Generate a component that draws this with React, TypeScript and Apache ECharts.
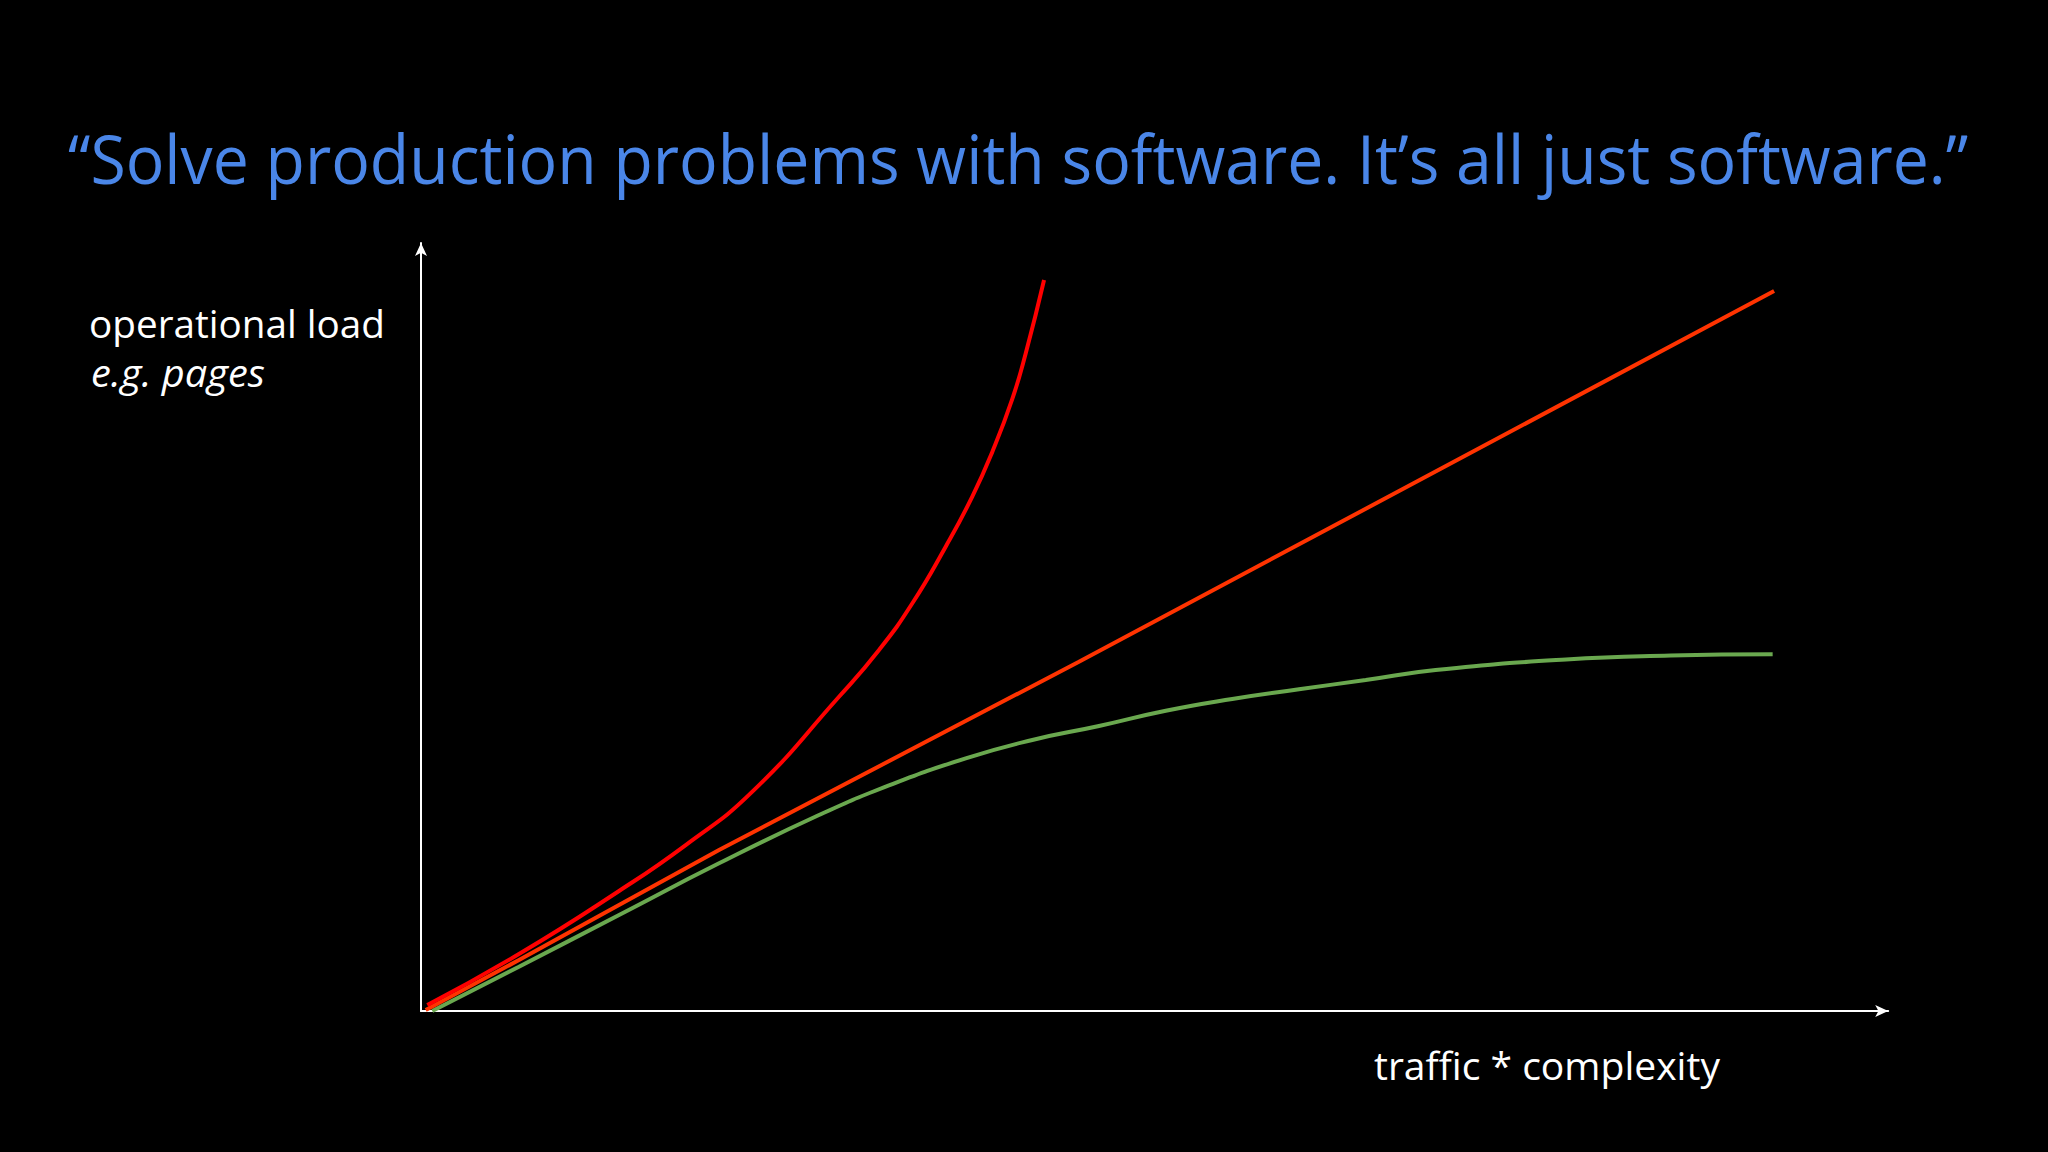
import React, { useEffect, useRef } from "react";
import * as echarts from "echarts";

// Data (x = traffic * complexity, y = operational load)
const fastGrowthPoints: [number, number][] = [
  [0.44, 0.78], [6.85, 7.42], [13.85, 15.63], [18.51, 21.61], [23.17, 28.56],
  [29.23, 40.92], [32.03, 47.01], [34.36, 53.09], [36.69, 60.46],
  [38.55, 66.97], [39.95, 72.8], [41.35, 79.7], [42.29, 85.64], [43.57, 95.18],
];
const linearPoints: [number, number][] = [
  [0.33, 0.13], [6.85, 6.64], [20.84, 20.96], [46.01, 45.48], [94.62, 93.75],
];
const softwarePoints: [number, number][] = [
  [0.79, 0.0], [6.85, 5.77], [13.85, 12.5], [20.84, 19.23], [27.83, 25.52],
  [32.5, 29.21], [38.09, 32.9], [42.75, 35.29], [47.41, 37.11], [52.08, 39.1],
  [56.73, 40.63], [61.4, 41.89], [66.06, 43.1], [70.95, 44.4], [80.07, 45.77],
  [87.39, 46.28], [94.52, 46.45],
];
const titleText = "\u201CSolve production problems with software. It\u2019s all just software.\u201D";
const yLabelLines = ["operational load", "e.g. pages"];
const xLabelText = "traffic * complexity";

const FONT = '"Open Sans", "Noto Sans", sans-serif';

function fitScale(text: string, size: number, target: number, style = "normal"): number {
  const c = document.createElement("canvas");
  const ctx = c.getContext("2d");
  if (!ctx) return 1;
  ctx.font = `${style} ${size}px ${FONT}`;
  const w = ctx.measureText(text).width;
  return w > 0 ? target / w : 1;
}

export default function App() {
  const ref = useRef<HTMLDivElement>(null);
  useEffect(() => {
    if (!ref.current) return;
    const chart = echarts.init(ref.current, null, { renderer: "svg" });
    const titleSize = 68;
    const labelSize = 38;
    const axisLine = {
      show: true,
      lineStyle: { color: "#ffffff", width: 2 },
      symbol: ["none", "arrow"],
      symbolSize: [9, 13],
    };
    const option: any = {
      animation: false,
      backgroundColor: "#000000",
      grid: { left: 421, top: 243, width: 1467.2, height: 768 },
      xAxis: {
        type: "value", min: 0, max: 102.6,
        axisLine, axisTick: { show: false }, axisLabel: { show: false }, splitLine: { show: false },
      },
      yAxis: {
        type: "value", min: 0, max: 100,
        axisLine, axisTick: { show: false }, axisLabel: { show: false }, splitLine: { show: false },
      },
      series: [
        { type: "line", name: "linear", data: linearPoints, smooth: false, symbol: "none", lineStyle: { color: "#ff3300", width: 4 }, z: 2 },
        { type: "line", name: "software", data: softwarePoints, smooth: 0.5, symbol: "none", lineStyle: { color: "#6aa84f", width: 4 }, z: 1 },
        { type: "line", name: "fast growth", data: fastGrowthPoints, smooth: 0.5, symbol: "none", lineStyle: { color: "#ff0000", width: 4 }, z: 3 },
      ],
      graphic: [
        {
          type: "text", x: 68, y: 157, scaleX: fitScale(titleText, titleSize, 1900),
          style: { text: titleText, fill: "#4a86e8", font: `${titleSize}px ${FONT}`, align: "left", verticalAlign: "middle" },
        },
        {
          type: "text", x: 89, y: 323, scaleX: fitScale(yLabelLines[0], labelSize, 296),
          style: { text: yLabelLines[0], fill: "#ffffff", font: `${labelSize}px ${FONT}`, align: "left", verticalAlign: "middle" },
        },
        {
          type: "text", x: 91, y: 372, scaleX: fitScale(yLabelLines[1], labelSize, 174, "italic"),
          style: { text: yLabelLines[1], fill: "#ffffff", font: `italic ${labelSize}px ${FONT}`, align: "left", verticalAlign: "middle" },
        },
        {
          type: "text", x: 1374, y: 1065, scaleX: fitScale(xLabelText, labelSize, 346),
          style: { text: xLabelText, fill: "#ffffff", font: `${labelSize}px ${FONT}`, align: "left", verticalAlign: "middle" },
        },
      ],
    };
    chart.setOption(option);
    return () => chart.dispose();
  }, []);
  return (
    <div
      ref={ref}
      style={{ position: "fixed", left: 0, top: 0, width: 2048, height: 1152, background: "#000" }}
    />
  );
}
